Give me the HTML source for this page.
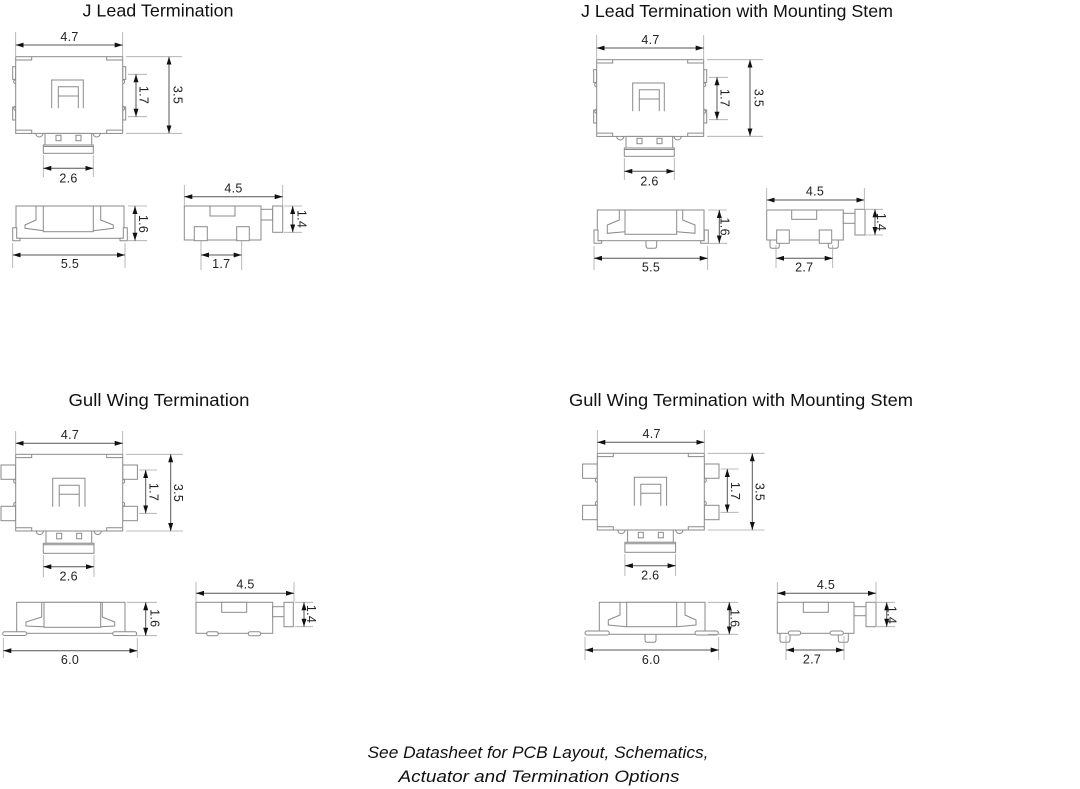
<!DOCTYPE html>
<html>
<head>
<meta charset="utf-8">
<style>
html,body{margin:0;padding:0;background:#fff;}
svg{display:block;}
.o{fill:#fff;stroke:#8a8a8a;stroke-width:1;}
.n{fill:none;stroke:#8a8a8a;stroke-width:1;}
.e{fill:none;stroke:#a8a8a8;stroke-width:.8;}
.d{fill:none;stroke:#555;stroke-width:1;marker-start:url(#ar);marker-end:url(#ar);}
.t{font-family:"Liberation Sans",Arial,sans-serif;font-size:12.5px;fill:#222;letter-spacing:.3px;text-anchor:middle;}
.h{font-family:"Liberation Sans",Arial,sans-serif;font-size:17.5px;fill:#111;text-anchor:middle;}
.i{font-family:"Liberation Sans",Arial,sans-serif;font-size:17px;font-style:italic;fill:#111;text-anchor:middle;}
</style>
</head>
<body>
<svg width="1080" height="789" viewBox="0 0 1080 789" xmlns="http://www.w3.org/2000/svg">
<defs>
<marker id="ar" viewBox="0 0 8 5" refX="8" refY="2.5" markerWidth="8" markerHeight="5" orient="auto-start-reverse" markerUnits="userSpaceOnUse"><path d="M0,0L8,2.5L0,5z" fill="#111"/></marker>
</defs>
<rect x="0" y="0" width="1080" height="789" fill="#fff"/>

<!-- Titles -->
<text class="h" x="158" y="16.5" textLength="151" lengthAdjust="spacingAndGlyphs">J Lead Termination</text>
<text class="h" x="737" y="17" textLength="312" lengthAdjust="spacingAndGlyphs">J Lead Termination with Mounting Stem</text>
<text class="h" x="159" y="406" textLength="181" lengthAdjust="spacingAndGlyphs">Gull Wing Termination</text>
<text class="h" x="741" y="406" textLength="344" lengthAdjust="spacingAndGlyphs">Gull Wing Termination with Mounting Stem</text>

<!-- ================= Panel 1 top view (J lead) ================= -->
<g id="tj">
 <g transform="translate(15.7,56.7)">
  <rect class="o" x="-3" y="10" width="3" height="12.7"/>
  <rect class="o" x="-3" y="50.3" width="3" height="13"/>
  <rect class="o" x="107" y="10" width="3" height="12.7"/>
  <rect class="o" x="107" y="50.3" width="3" height="13"/>
  <rect class="o" x="0" y="0" width="107" height="76.7"/>
  <path class="n" d="M0,23a2,2 0 0 0 0,4 M0,49.6a2,2 0 0 0 0,4 M107,23a2,2 0 0 1 0,4 M107,49.6a2,2 0 0 1 0,4"/>
  <path class="n" d="M0,3.3H16V0 M91,0V3.3H107 M0,73.4H16V76.7 M91,76.7V73.4H107"/>
  <path class="n" d="M36,51.6V23.3H67.6V51.6 M42.6,51.6V30H62.6V51.6 M42.6,39.3H62.6"/>
  <path class="n" d="M20,76.7a3.6,3.6 0 0 0 7.2,0 M77.4,76.7a3.6,3.6 0 0 0 7.2,0"/>
  <rect class="o" x="29.3" y="76.7" width="46.7" height="11.6"/>
  <rect class="o" x="40.3" y="78.6" width="5" height="5.4"/>
  <rect class="o" x="60.3" y="78.6" width="5" height="5.4"/>
  <rect class="o" x="27.6" y="88.3" width="50" height="8.3"/>
  <line class="n" x1="27.6" y1="89.8" x2="77.6" y2="89.8"/>
 </g>
 <path class="e" d="M15.7,32V56 M122.7,32V56 M126,56.7H182 M126,133.3H182 M128,74.3H147 M128,116.7H147 M43.3,155V177 M93.3,155V177"/>
 <line class="d" x1="15.7" y1="45" x2="122.7" y2="45"/>
 <line class="d" x1="169" y1="56.7" x2="169" y2="133.3"/>
 <line class="d" x1="136" y1="74.3" x2="136" y2="116.7"/>
 <line class="d" x1="43.3" y1="168.3" x2="93.3" y2="168.3"/>
 <text class="t" x="69.5" y="41">4.7</text>
 <text class="t" transform="translate(178,95) rotate(90)" y="4.5">3.5</text>
 <text class="t" transform="translate(144,95) rotate(90)" y="4.5">1.7</text>
 <text class="t" x="68.5" y="182.5">2.6</text>
</g>
<use href="#tj" x="581" y="3"/>

<!-- ================= Panel 3 top view (Gull wing) ================= -->
<g id="tg">
 <g transform="translate(15.7,454.3)">
  <rect class="o" x="-14.7" y="10.7" width="14.7" height="14.3"/>
  <rect class="o" x="-14.7" y="52" width="14.7" height="14.4"/>
  <rect class="o" x="107" y="10.7" width="14.7" height="14.3"/>
  <rect class="o" x="107" y="52" width="14.7" height="14.4"/>
  <rect class="o" x="0" y="0" width="107" height="76.7"/>
  <path class="n" d="M0,25a2,2 0 0 0 0,4 M0,48a2,2 0 0 0 0,4 M107,25a2,2 0 0 1 0,4 M107,48a2,2 0 0 1 0,4"/>
  <path class="n" d="M0,3.3H16V0 M91,0V3.3H107 M0,73.4H16V76.7 M91,76.7V73.4H107"/>
  <path class="n" d="M37,52.4V24H69.3V52.4 M43.5,52.4V31H63.5V52.4 M43.5,40H63.5"/>
  <path class="n" d="M20.5,76.7a3.6,3.6 0 0 0 7.2,0 M78.5,76.7a3.6,3.6 0 0 0 7.2,0"/>
  <rect class="o" x="30.3" y="76.7" width="45.7" height="12.3"/>
  <rect class="o" x="41" y="79" width="5" height="5.5"/>
  <rect class="o" x="61" y="79" width="5" height="5.5"/>
  <rect class="o" x="27.6" y="89" width="50.7" height="10"/>
  <line class="n" x1="27.6" y1="90.5" x2="78.3" y2="90.5"/>
 </g>
 <path class="e" d="M15.7,431V455 M122.7,431V455 M126,454.3H183 M126,531H183 M139,470H157 M139,513.3H157 M43.3,555V577 M94,555V577"/>
 <line class="d" x1="15.7" y1="443.3" x2="122.7" y2="443.3"/>
 <line class="d" x1="170.7" y1="454.3" x2="170.7" y2="531"/>
 <line class="d" x1="145.7" y1="470" x2="145.7" y2="513.3"/>
 <line class="d" x1="43.3" y1="566.7" x2="94" y2="566.7"/>
 <text class="t" x="70" y="439">4.7</text>
 <text class="t" transform="translate(178.5,493) rotate(90)" y="4.5">3.5</text>
 <text class="t" transform="translate(154,492) rotate(90)" y="4.5">1.7</text>
 <text class="t" x="68.7" y="580.5">2.6</text>
</g>
<use href="#tg" x="581.6" y="-1"/>

<!-- ================= Panel 1 side view ================= -->
<rect class="o" x="16" y="206" width="108" height="32.3"/>
<path class="o" d="M12.7,227.7H16.7V238.3H20V240.7H12.7Z"/>
<path class="o" d="M127.3,227.7H123.3V238.3H120V240.7H127.3Z"/>
<rect class="o" x="43.3" y="206" width="50" height="25.7"/>
<path class="n" d="M36,206V220L25,225V228.3L43.3,230.7 M100.7,206V220L113.3,225V228.3L93.3,230.7"/>
<path class="e" d="M128,206H147 M128,240.7H147 M12.7,243V268 M125,243V268"/>
<line class="d" x1="135" y1="206" x2="135" y2="240.7"/>
<line class="d" x1="12.7" y1="255" x2="125" y2="255"/>
<text class="t" transform="translate(143.5,224) rotate(90)" y="4.5">1.6</text>
<text class="t" x="70" y="268">5.5</text>

<!-- Panel 1 front view -->
<rect class="o" x="184.3" y="206" width="76.7" height="34"/>
<rect class="o" x="210" y="206" width="25" height="10"/>
<rect class="o" x="194.3" y="226.7" width="13" height="14"/>
<rect class="o" x="236.7" y="226.7" width="12.6" height="14"/>
<rect class="o" x="261" y="209.3" width="11.7" height="10.7"/>
<rect class="o" x="272.7" y="206" width="10" height="26.3"/>
<path class="e" d="M184.3,185V206 M282.7,185V206 M284,206H302 M284,232.3H302 M201,241V270 M241.7,241V270"/>
<line class="d" x1="184.3" y1="196.7" x2="282.7" y2="196.7"/>
<line class="d" x1="292.7" y1="206" x2="292.7" y2="232.3"/>
<line class="d" x1="201" y1="255" x2="241.7" y2="255"/>
<text class="t" x="233.5" y="192.5">4.5</text>
<text class="t" transform="translate(302,219) rotate(90)" y="4.5">1.4</text>
<text class="t" x="221.3" y="268">1.7</text>

<!-- ================= Panel 2 side view ================= -->
<path class="o" d="M646,240.7V246q0,2.3 2.3,2.3H654.4q2.3,0 2.3,-2.3V240.7"/>
<rect class="o" x="597.3" y="210" width="106.7" height="30.7"/>
<path class="o" d="M594,230H598V240.7H601.7V243.3H594Z"/>
<path class="o" d="M708.3,230H704.3V240.7H700.7V243.3H708.3Z"/>
<rect class="o" x="625" y="210" width="51.7" height="24.3"/>
<path class="n" d="M619.3,210V220L607.3,225V233.3L625,231.7 M682.7,210V220L695,225V233.3L676.7,231.7"/>
<path class="e" d="M708,210H727 M708,243.3H727 M594,246V270 M707.7,246V270"/>
<line class="d" x1="719.3" y1="210" x2="719.3" y2="243.3"/>
<line class="d" x1="594" y1="258.3" x2="707.7" y2="258.3"/>
<text class="t" transform="translate(725,226.7) rotate(90)" y="4.5">1.6</text>
<text class="t" x="651" y="271.5">5.5</text>

<!-- Panel 2 front view -->
<path class="o" d="M770,238V246q0,2.3 2.3,2.3H777q2.3,0 2.3,-2.3V238"/>
<path class="o" d="M828.3,238V246q0,2.3 2.3,2.3H836q2.3,0 2.3,-2.3V238"/>
<rect class="o" x="766.7" y="210" width="76.6" height="30"/>
<rect class="o" x="791.7" y="210" width="25" height="9.3"/>
<rect class="o" x="776.7" y="230" width="12.6" height="13.3"/>
<rect class="o" x="819.3" y="230" width="12.4" height="13.3"/>
<rect class="o" x="843.3" y="213.3" width="11.7" height="10"/>
<rect class="o" x="855" y="209.3" width="10" height="25.7"/>
<path class="e" d="M766.7,188V209 M864.3,188V209 M866,209.3H883 M866,235H883 M776,245V268 M832.7,245V268"/>
<line class="d" x1="766.7" y1="200" x2="864.3" y2="200"/>
<line class="d" x1="875" y1="209.3" x2="875" y2="235"/>
<line class="d" x1="776" y1="258.3" x2="832.7" y2="258.3"/>
<text class="t" x="815" y="195.5">4.5</text>
<text class="t" transform="translate(881.7,222) rotate(90)" y="4.5">1.4</text>
<text class="t" x="804.3" y="271.5">2.7</text>

<!-- ================= Panel 3 side view ================= -->
<rect class="o" x="16.7" y="602.3" width="108.3" height="31"/>
<rect class="o" x="44" y="602.3" width="56.7" height="25"/>
<path class="n" d="M41.7,602.3V617L26,622V626L44,626.7 M102.3,602.3V617L114.7,622V626L100.7,626.7"/>
<rect class="o" x="2.7" y="631.7" width="24" height="3.8" rx="1.9"/>
<rect class="o" x="112.7" y="631.7" width="24" height="3.8" rx="1.9"/>
<path class="e" d="M127,602.3H157 M127,635.7H157 M3.3,638V658 M137.3,638V658"/>
<line class="d" x1="145.7" y1="602.3" x2="145.7" y2="635.7"/>
<line class="d" x1="3.3" y1="650.7" x2="137.3" y2="650.7"/>
<text class="t" transform="translate(155,618.3) rotate(90)" y="4.5">1.6</text>
<text class="t" x="70" y="664">6.0</text>

<!-- Panel 3 front view -->
<rect class="o" x="196" y="602.3" width="76.7" height="31"/>
<rect class="o" x="221.7" y="602.3" width="25" height="10"/>
<rect class="o" x="272.7" y="606.7" width="11.3" height="10"/>
<rect class="o" x="284" y="602.3" width="9.3" height="24.4"/>
<rect class="o" x="206.7" y="631.7" width="11.6" height="4" rx="2"/>
<rect class="o" x="248.3" y="631.7" width="12.4" height="4" rx="2"/>
<path class="e" d="M196,582V602 M294,582V602 M295,602.3H313 M295,626.7H313"/>
<line class="d" x1="196" y1="593.3" x2="294" y2="593.3"/>
<line class="d" x1="304" y1="602.3" x2="304" y2="626.7"/>
<text class="t" x="245.5" y="588.5">4.5</text>
<text class="t" transform="translate(311.7,614) rotate(90)" y="4.5">1.4</text>

<!-- ================= Panel 4 side view ================= -->
<path class="o" d="M645,634.3V640q0,2.3 2.3,2.3H653.7q2.3,0 2.3,-2.3V634.3"/>
<rect class="o" x="599.3" y="602.3" width="105.7" height="32"/>
<rect class="o" x="626.7" y="602.3" width="50" height="24.4"/>
<path class="n" d="M620,602.3V615L608.3,620V625L626.7,626.7 M685,602.3V615L696,620V625L676.7,626.7"/>
<rect class="o" x="585" y="631" width="24.3" height="4" rx="2"/>
<rect class="o" x="695" y="631" width="23.3" height="4" rx="2"/>
<path class="e" d="M708,602.3H738 M708,634.3H738 M585,637V660 M718.7,637V660"/>
<line class="d" x1="729.3" y1="602.3" x2="729.3" y2="634.3"/>
<line class="d" x1="585" y1="650" x2="718.7" y2="650"/>
<text class="t" transform="translate(735,618.3) rotate(90)" y="4.5">1.6</text>
<text class="t" x="651" y="663.8">6.0</text>

<!-- Panel 4 front view -->
<path class="o" d="M780,630V640q0,2.3 2.3,2.3H787.7q2.3,0 2.3,-2.3V630"/>
<path class="o" d="M838.3,630V640q0,2.3 2.3,2.3H846q2.3,0 2.3,-2.3V630"/>
<rect class="o" x="777.3" y="602.3" width="76.7" height="31"/>
<rect class="o" x="803.3" y="602.3" width="25" height="10"/>
<rect class="o" x="854" y="606.7" width="12" height="9"/>
<rect class="o" x="866" y="602.3" width="10" height="24.4"/>
<rect class="o" x="788.3" y="631" width="12.4" height="4" rx="2"/>
<rect class="o" x="830" y="631" width="13.3" height="4" rx="2"/>
<path class="e" d="M777.3,582V602 M876,582V602 M877,602.3H895 M877,626.7H895 M786,636V660 M844,636V660"/>
<line class="d" x1="777.3" y1="593.3" x2="876" y2="593.3"/>
<line class="d" x1="886.7" y1="602.3" x2="886.7" y2="626.7"/>
<line class="d" x1="786" y1="650" x2="844" y2="650"/>
<text class="t" x="826" y="588.8">4.5</text>
<text class="t" transform="translate(892,615) rotate(90)" y="4.5">1.4</text>
<text class="t" x="812" y="663.5">2.7</text>

<!-- Footer -->
<text class="i" x="538" y="758" textLength="341" lengthAdjust="spacingAndGlyphs">See Datasheet for PCB Layout, Schematics,</text>
<text class="i" x="539" y="782" textLength="281" lengthAdjust="spacingAndGlyphs">Actuator and Termination Options</text>
</svg>
</body>
</html>
